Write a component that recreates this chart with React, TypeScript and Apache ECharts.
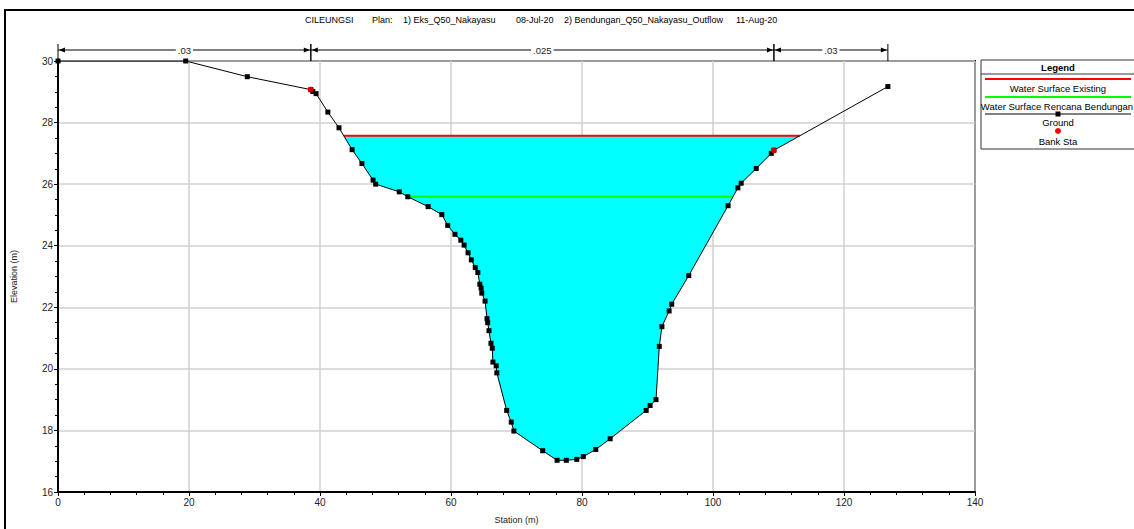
import React, { useEffect, useRef } from "react";
import * as echarts from "echarts";

// ---- Data ----
const STATION = [
  0, 19.5, 28.9, 38.6, 38.9, 39.4, 41.2, 42.9, 44.9, 46.4, 48.1, 48.5, 52.1, 53.4, 56.5, 58.6,
  59.5, 60.6, 61.5, 62.0, 62.6, 63.1, 63.7, 64.1, 64.4, 64.6, 64.7, 65.2, 65.5, 65.6, 65.8,
  66.1, 66.3, 66.4, 66.9, 67.0, 68.5, 69.2, 69.6, 74.0, 76.2, 77.6, 79.2, 80.2, 82.1, 84.3,
  89.8, 90.4, 91.3, 91.8, 92.2, 93.3, 93.7, 96.3, 102.3, 103.8, 104.3, 106.6, 108.9, 109.3, 126.7,
];
const ELEVATION = [
  30.0, 30.0, 29.49, 29.07, 29.01, 28.94, 28.34, 27.83, 27.12, 26.67, 26.13, 26.0, 25.75, 25.59, 25.27, 25.01,
  24.66, 24.37, 24.18, 24.02, 23.77, 23.54, 23.29, 23.13, 22.75, 22.62, 22.46, 22.2, 21.63, 21.5, 21.24,
  20.83, 20.67, 20.22, 20.1, 19.87, 18.65, 18.27, 17.98, 17.34, 17.03, 17.03, 17.06, 17.15, 17.38, 17.73,
  18.65, 18.81, 19.0, 20.73, 21.37, 21.88, 22.1, 23.03, 25.3, 25.88, 26.03, 26.51, 27.0, 27.1, 29.17,
];
const BANK_STATIONS = [38.6, 109.3];
const WS_EXISTING = 27.57;
const WS_RENCANA = 25.59;
const N_BREAKS = [0, 38.6, 109.3, 126.7];
const N_VALUES = [".03", ".025", ".03"];
const TITLE_PARTS = ["CILEUNGSI", "Plan:", "1) Eks_Q50_Nakayasu", "08-Jul-20", "2) Bendungan_Q50_Nakayasu_Outflow", "11-Aug-20"];
const TITLE_X = [305, 372, 403, 516, 564, 736];
const LEGEND_ITEMS = ["Water Surface Existing", "Water Surface Rencana Bendungan", "Ground", "Bank Sta"];

const FONT = "'Liberation Sans', Arial, sans-serif";

function crossing(level: number): { left: number; right: number; li: number; ri: number } {
  let minI = 0;
  ELEVATION.forEach((e, i) => { if (e < ELEVATION[minI]) minI = i; });
  let li = minI;
  while (li > 0 && ELEVATION[li - 1] < level) li--;
  let ri = minI;
  while (ri < ELEVATION.length - 1 && ELEVATION[ri + 1] < level) ri++;
  const interp = (a: number, b: number) => {
    const t = (level - ELEVATION[a]) / (ELEVATION[b] - ELEVATION[a]);
    return STATION[a] + t * (STATION[b] - STATION[a]);
  };
  const left = li > 0 ? interp(li - 1, li) : STATION[0];
  const right = ri < ELEVATION.length - 1 ? interp(ri + 1, ri) : STATION[STATION.length - 1];
  return { left, right, li, ri };
}

export default function App() {
  const ref = useRef<HTMLDivElement>(null);
  useEffect(() => {
    if (!ref.current) return;
    const chart = echarts.init(ref.current, null, { renderer: "svg" });
    const ex = crossing(WS_EXISTING);
    const rc = crossing(WS_RENCANA);
    const poly: number[][] = [[ex.left, WS_EXISTING]];
    for (let i = ex.li; i <= ex.ri; i++) poly.push([STATION[i], ELEVATION[i]]);
    poly.push([ex.right, WS_EXISTING]);

    const ground = STATION.map((s, i) => [s, ELEVATION[i]]);
    const banks = BANK_STATIONS.map((b) => [b, ELEVATION[STATION.indexOf(b)]]);
    const nData = N_VALUES.map((v, i) => [N_BREAKS[i], N_BREAKS[i + 1], i]);

    const lx = 985, rx = 1131, cx = 1058;
    const lf = `9.5px ${FONT}`;
    const legendGraphics: any[] = [
      { type: "rect", shape: { x: 981, y: 60, width: 170, height: 89 }, style: { fill: "#fff", stroke: "#333", lineWidth: 1 } },
      { type: "line", shape: { x1: 981, y1: 74, x2: 1140, y2: 74 }, style: { stroke: "#333", lineWidth: 1 } },
      { type: "text", x: cx, y: 67, style: { text: "Legend", font: `bold 9.5px ${FONT}`, fill: "#000", align: "center", verticalAlign: "middle" } },
      { type: "line", shape: { x1: lx, y1: 79, x2: rx, y2: 79 }, style: { stroke: "#ff0000", lineWidth: 2 } },
      { type: "text", x: cx, y: 88, style: { text: LEGEND_ITEMS[0], font: lf, fill: "#000", align: "center", verticalAlign: "middle" } },
      { type: "line", shape: { x1: lx, y1: 97, x2: rx, y2: 97 }, style: { stroke: "#00ff00", lineWidth: 2 } },
      { type: "text", x: cx - 1, y: 106, style: { text: LEGEND_ITEMS[1], font: lf, fill: "#000", align: "center", verticalAlign: "middle" } },
      { type: "line", shape: { x1: lx, y1: 114, x2: rx, y2: 114 }, style: { stroke: "#000", lineWidth: 1 } },
      { type: "rect", shape: { x: cx - 2.5, y: 111.5, width: 5, height: 5 }, style: { fill: "#000" } },
      { type: "text", x: cx, y: 122, style: { text: LEGEND_ITEMS[2], font: lf, fill: "#000", align: "center", verticalAlign: "middle" } },
      { type: "circle", shape: { cx: cx, cy: 131, r: 3 }, style: { fill: "#ff0000" } },
      { type: "text", x: cx, y: 141, style: { text: LEGEND_ITEMS[3], font: lf, fill: "#000", align: "center", verticalAlign: "middle" } },
    ];
    const titleGraphics = TITLE_PARTS.map((t, i) => ({
      type: "text", x: TITLE_X[i], y: 20,
      style: { text: t, font: `9px ${FONT}`, fill: "#000", align: "left", verticalAlign: "middle" },
    }));

    chart.setOption({
      animation: false,
      backgroundColor: "#fff",
      textStyle: { fontFamily: FONT },
      grid: { left: 58, right: 159, top: 61, bottom: 31, show: true, borderColor: "#000", borderWidth: 2, backgroundColor: "transparent" },
      xAxis: {
        type: "value", min: 0, max: 140, interval: 20,
        name: "Station (m)", nameLocation: "middle", nameGap: 23,
        nameTextStyle: { fontSize: 9, color: "#222", fontFamily: FONT },
        axisLine: { show: true, lineStyle: { color: "#000", width: 2 } },
        axisTick: { show: true, length: 4, lineStyle: { color: "#000" } },
        minorTick: { show: true, splitNumber: 5, length: 3, lineStyle: { color: "#000" } },
        splitLine: { show: true, lineStyle: { color: "#d0d0d0", width: 1.5 } },
        axisLabel: { fontSize: 10, color: "#222", margin: 5, fontFamily: FONT },
      },
      yAxis: {
        type: "value", min: 16, max: 30, interval: 2,
        name: "Elevation (m)", nameLocation: "middle", nameGap: 40,
        nameTextStyle: { fontSize: 9, color: "#222", fontFamily: FONT },
        axisLine: { show: true, lineStyle: { color: "#000", width: 2 } },
        axisTick: { show: true, length: 4, lineStyle: { color: "#000" } },
        minorTick: { show: true, splitNumber: 4, length: 3, lineStyle: { color: "#000" } },
        splitLine: { show: true, lineStyle: { color: "#d0d0d0", width: 1.5 } },
        axisLabel: { fontSize: 10, color: "#222", margin: 5, fontFamily: FONT },
      },
      series: [
        {
          type: "custom", name: "water", silent: true, z: 2,
          data: [[0, 16]],
          renderItem: (_p: any, api: any) => ({
            type: "polygon",
            shape: { points: poly.map((p) => api.coord(p)) },
            style: { fill: "#00ffff", stroke: "none" },
          }),
        },
        {
          type: "line", name: "Water Surface Existing", z: 3, silent: true,
          data: [[ex.left, WS_EXISTING], [ex.right, WS_EXISTING]],
          symbol: "none", lineStyle: { color: "#ff0000", width: 2 },
        },
        {
          type: "line", name: "Water Surface Rencana Bendungan", z: 3, silent: true,
          data: [[rc.left, WS_RENCANA], [rc.right, WS_RENCANA]],
          symbol: "none", lineStyle: { color: "#00ff00", width: 2 },
        },
        {
          type: "line", name: "Ground", z: 4, silent: true,
          data: ground, symbol: "rect", symbolSize: 5, showAllSymbol: true,
          lineStyle: { color: "#000", width: 1 }, itemStyle: { color: "#000" },
        },
        {
          type: "scatter", name: "Bank Sta", z: 5, silent: true,
          data: banks, symbol: "circle", symbolSize: 6, itemStyle: { color: "#ff0000" },
        },
        {
          type: "custom", name: "n", silent: true, clip: false, z: 5,
          data: nData,
          renderItem: (params: any, api: any) => {
            const a = api.coord([api.value(0), 30]);
            const b = api.coord([api.value(1), 30]);
            const top = a[1];
            const y = top - 11;
            const x1 = a[0], x2 = b[0];
            const label = N_VALUES[api.value(2)];
            return {
              type: "group",
              children: [
                { type: "line", shape: { x1, y1: y, x2, y2: y }, style: { stroke: "#000", lineWidth: 1 } },
                { type: "line", shape: { x1, y1: top - 17, x2: x1, y2: top }, style: { stroke: "#000", lineWidth: 1 } },
                { type: "line", shape: { x1: x2, y1: top - 17, x2: x2, y2: top }, style: { stroke: "#000", lineWidth: 1 } },
                { type: "polygon", shape: { points: [[x1 + 1, y], [x1 + 7, y - 2.5], [x1 + 7, y + 2.5]] }, style: { fill: "#000" } },
                { type: "polygon", shape: { points: [[x2 - 1, y], [x2 - 7, y - 2.5], [x2 - 7, y + 2.5]] }, style: { fill: "#000" } },
                {
                  type: "text", x: (x1 + x2) / 2, y,
                  style: { text: label, font: `9.5px ${FONT}`, fill: "#222", align: "center", verticalAlign: "middle", backgroundColor: "#fff", padding: [0, 2] },
                },
              ],
            };
          },
        },
      ],
      graphic: [
        { type: "rect", shape: { x: 5, y: 10, width: 1145, height: 540 }, style: { fill: "none", stroke: "#000", lineWidth: 2 }, z: -1 },
        ...titleGraphics,
        ...legendGraphics,
      ],
    });
    return () => chart.dispose();
  }, []);
  return <div ref={ref} style={{ position: "fixed", left: 0, top: 0, width: 1134, height: 529 }} />;
}
